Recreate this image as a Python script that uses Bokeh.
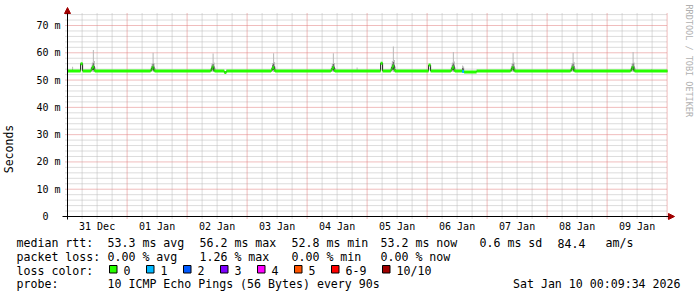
import numpy as np
from math import pi
from bokeh.plotting import figure
from bokeh.models import (FixedTicker, Label, BoxAnnotation, Arrow, NormalHead,
                          Range1d, ColumnDataSource)
from bokeh.embed import file_html
from bokeh.resources import INLINE

# ---------------- data (time = hours since 2025-12-31 00:00) ----------------
T_START = 9 / 60 + 34 / 3600          # Dec 31 00:09:34
T_END = T_START + 240                 # Jan 10 00:09:34
SAMPLE_H = 1440 / 3600                # one RRD step (hours)
Y_MAX = 74.4

day_ticks = [12, 36, 60, 84, 108, 132, 156, 180, 204, 228]
day_labels = ["31 Dec", "01 Jan", "02 Jan", "03 Jan", "04 Jan",
              "05 Jan", "06 Jan", "07 Jan", "08 Jan", "09 Jan"]
midnights = [24, 48, 72, 96, 120, 144, 168, 192, 216, 240]
ms_ticks = [0, 10, 20, 30, 40, 50, 60, 70]
ms_labels = ["0\u00a0\u00a0", "10 m", "20 m", "30 m", "40 m", "50 m", "60 m", "70 m"]

# median RTT (step series, ms) and lost pings per step
med_t = [0.16, 5.4, 6.2, 9.5, 9.9, 10.3, 10.7, 11.1,
         33.4, 33.8, 34.2, 34.6, 35.0,
         57.4, 57.8, 58.2, 58.6, 59.0,
         62.9, 63.7,
         81.6, 82.0, 82.4, 82.8, 83.2,
         105.5, 105.9, 106.3, 106.7, 107.1,
         125.4, 126.2,
         129.5, 129.9, 130.3, 130.7, 131.1,
         144.6, 145.4,
         153.5, 153.9, 154.3, 154.7, 155.1,
         158.0, 158.8, 163.8,
         177.4, 177.8, 178.2, 178.6, 179.0,
         201.4, 201.8, 202.2, 202.6, 203.0,
         225.4, 225.8, 226.2, 226.6, 227.0]
med_ms = [53.3, 56.0, 53.3, 53.7, 54.6, 54.9, 53.7, 53.3,
          53.6, 54.4, 54.7, 53.6, 53.3,
          53.6, 54.5, 54.8, 53.5, 53.3,
          52.8, 53.3,
          53.6, 54.4, 54.6, 53.6, 53.3,
          53.6, 54.3, 54.6, 53.5, 53.3,
          56.2, 53.3,
          53.8, 54.8, 55.2, 53.8, 53.3,
          55.5, 53.3,
          53.6, 54.5, 54.7, 53.6, 53.3,
          53.1, 53.0, 53.3,
          53.6, 54.4, 54.6, 53.6, 53.3,
          53.6, 54.4, 54.6, 53.5, 53.3,
          53.6, 54.5, 54.7, 53.6, 53.3]
med_loss = [0] * 44 + [1] + [0] * 17

# smoke (spread of the 10 pings per step, ms)
smoke_t = [2.0,
           9.5, 9.9, 10.3, 10.7, 11.1,
           33.4, 33.8, 34.2, 34.6, 35.0,
           57.4, 57.8, 58.2, 58.6, 59.0,
           81.6, 82.0, 82.4, 82.8, 83.2,
           105.5, 105.9, 106.3, 106.7, 107.1,
           115.8,
           129.5, 129.9, 130.3, 130.7, 131.1,
           153.5, 153.9, 154.3, 154.7, 155.1,
           158.0, 158.4,
           177.4, 177.8, 178.2, 178.6, 179.0,
           201.4, 201.8, 202.2, 202.6, 203.0,
           225.4, 225.8, 226.2, 226.6, 227.0,
           233.6]
smoke_lo = [53.2,
            53.1, 53.1, 53.0, 53.0, 53.1,
            53.1, 53.2, 53.1, 53.0, 53.1,
            53.1, 53.1, 53.0, 53.0, 53.1,
            53.1, 53.2, 53.0, 53.0, 53.1,
            53.1, 53.1, 53.0, 53.0, 53.1,
            53.2,
            53.1, 53.2, 53.0, 53.0, 53.1,
            53.1, 53.1, 53.0, 53.0, 53.1,
            53.0, 53.0,
            53.1, 53.1, 53.0, 53.0, 53.1,
            53.1, 53.2, 53.0, 53.0, 53.1,
            53.1, 53.1, 53.0, 53.0, 53.1,
            53.2]
smoke_hi = [54.9,
            54.8, 56.4, 61.0, 57.0, 54.6,
            54.6, 56.0, 60.0, 56.2, 54.4,
            54.4, 56.2, 59.7, 56.4, 54.5,
            54.7, 56.3, 59.8, 56.6, 54.6,
            54.5, 56.0, 59.8, 56.3, 54.4,
            54.6,
            55.0, 57.0, 62.3, 57.4, 55.0,
            54.8, 56.4, 60.3, 56.8, 54.6,
            55.3, 55.0,
            54.6, 56.1, 60.0, 56.5, 54.5,
            54.6, 56.2, 60.0, 56.6, 54.5,
            54.5, 56.0, 60.3, 56.4, 54.5,
            54.0]
smoke_in_lo = [53.3,
               53.3, 53.6, 53.8, 53.4, 53.2,
               53.3, 53.6, 53.8, 53.4, 53.2,
               53.3, 53.6, 53.8, 53.4, 53.2,
               53.3, 53.6, 53.8, 53.4, 53.2,
               53.3, 53.6, 53.8, 53.4, 53.2,
               53.3,
               53.4, 53.8, 54.0, 53.5, 53.2,
               53.3, 53.6, 53.8, 53.4, 53.2,
               53.2, 53.2,
               53.3, 53.6, 53.8, 53.4, 53.2,
               53.3, 53.6, 53.8, 53.4, 53.2,
               53.3, 53.6, 53.8, 53.4, 53.2,
               53.3]
smoke_in_hi = [53.8,
               54.2, 55.3, 56.2, 55.2, 53.8,
               54.0, 55.2, 56.0, 55.0, 53.8,
               54.0, 55.3, 55.9, 55.1, 53.8,
               54.1, 55.4, 56.0, 55.2, 53.9,
               54.0, 55.2, 55.9, 55.0, 53.8,
               53.7,
               54.3, 55.8, 56.6, 55.6, 54.0,
               54.1, 55.4, 56.1, 55.3, 53.8,
               54.4, 54.2,
               54.0, 55.2, 56.0, 55.1, 53.8,
               54.1, 55.3, 56.0, 55.2, 53.8,
               54.0, 55.2, 56.1, 55.1, 53.8,
               53.6]

loss_names = ["0", "1", "2", "3", "4", "5", "6-9", "10/10"]
loss_colors = ["#26ff00", "#00b8ff", "#0059ff", "#7e00ff",
               "#ff00ff", "#ff5500", "#ff0000", "#a10000"]

stats_rtt = ["53.3 ms avg", "56.2 ms max", "52.8 ms min", "53.2 ms now",
             "0.6 ms sd", "84.4", "am/s"]
stats_loss = ["0.00 % avg", "1.26 % max", "0.00 % min", "0.00 % now"]
probe_text = "10 ICMP Echo Pings (56 Bytes) every 90s"
stamp_text = "Sat Jan 10 00:09:34 2026"

# ---------------- layout: the frame covers the whole canvas ----------------
W, H = 697, 297
FL, FR, FT, FB = 67, 667, 13, 216     # where the graph area sits (canvas px)


def dx(px):
    return T_START + (px - FL) * (T_END - T_START) / (FR - FL)


def dy(py):
    return (FB - py) * Y_MAX / (FB - FT)


MONO = "DejaVu Sans Mono"

p = figure(width=W, height=H, output_backend="svg", toolbar_location=None,
           title=None, x_range=Range1d(dx(0), dx(W)), y_range=Range1d(dy(H), dy(0)),
           min_border=0, min_border_left=0, min_border_right=0,
           min_border_top=0, min_border_bottom=0)
p.outline_line_color = None
p.background_fill_color = "white"
p.border_fill_color = "white"
p.xgrid.visible = False
p.ygrid.visible = False

# grid lines (dotted, rrdtool style)
minor_h = [h for h in range(6, 240, 6) if h % 24]
minor_ms = [v for v in range(2, 75, 2) if v % 10]
grid_gray = "#b9b9b9"
grid_red = "#e07a7a"
p.segment(x0=minor_h, y0=dy(218), x1=minor_h, y1=Y_MAX,
          line_color=grid_gray, line_dash="1 1", line_width=1)
p.segment(x0=dx(65), y0=minor_ms, x1=T_END, y1=minor_ms,
          line_color=grid_gray, line_dash="1 1", line_width=1)
p.segment(x0=midnights, y0=dy(218), x1=midnights, y1=Y_MAX,
          line_color=grid_red, line_dash="1 1", line_width=1)
p.segment(x0=dx(65), y0=ms_ticks[1:], x1=T_END, y1=ms_ticks[1:],
          line_color=grid_red, line_dash="1 1", line_width=1)

# axes placed at the graph origin
p.xaxis.fixed_location = 0
p.yaxis.fixed_location = T_START
p.xaxis.ticker = FixedTicker(ticks=day_ticks)
p.xaxis.major_label_overrides = dict(zip(day_ticks, day_labels))
p.yaxis.ticker = FixedTicker(ticks=ms_ticks)
p.yaxis.major_label_overrides = dict(zip(ms_ticks, ms_labels))
for ax in (p.xaxis, p.yaxis):
    ax.axis_line_color = None
    ax.major_tick_line_color = None
    ax.minor_tick_line_color = None
    ax.major_tick_out = 0
    ax.major_tick_in = 0
    ax.major_label_text_font = MONO
    ax.major_label_text_font_size = "10px"
    ax.major_label_text_color = "black"
p.xaxis.major_label_standoff = 4
p.yaxis.major_label_standoff = 7
p.yaxis.axis_label = "Seconds"
p.yaxis.axis_label_text_font = MONO
p.yaxis.axis_label_text_font_size = "11.5px"
p.yaxis.axis_label_text_font_style = "normal"
p.yaxis.axis_label_text_color = "black"
p.yaxis.axis_label_standoff = 17

# smoke
smoke = ColumnDataSource(dict(
    left=smoke_t, right=[t + SAMPLE_H for t in smoke_t],
    lo=smoke_lo, hi=smoke_hi, ilo=smoke_in_lo, ihi=smoke_in_hi))
p.quad(left="left", right="right", bottom="lo", top="hi", source=smoke,
       fill_color="#b8b8b8", line_color=None)
p.quad(left="left", right="right", bottom="ilo", top="ihi", source=smoke,
       fill_color="#5e5e5e", line_color=None)

# median: thin dark line + loss-coloured band per step
xs = med_t + [T_END]
ys = med_ms + [med_ms[-1]]
p.step(xs, ys, mode="after", line_color="#202020", line_width=1)


def loss_idx(n):
    if n <= 5:
        return n
    return 6 if n < 10 else 7


seg = ColumnDataSource(dict(
    x0=med_t, x1=med_t[1:] + [T_END], y=med_ms,
    c=[loss_colors[loss_idx(n)] for n in med_loss]))
p.segment(x0="x0", y0="y", x1="x1", y1="y", source=seg,
          line_color="c", line_width=3, line_cap="butt")

# axis lines with arrow heads
arrow_col = "#a00000"
p.add_layout(Arrow(x_start=T_START, y_start=dy(219), x_end=T_START, y_end=dy(7),
                   line_color="black", line_width=1,
                   end=NormalHead(size=6, fill_color=arrow_col, line_color=arrow_col)))
p.add_layout(Arrow(x_start=dx(62), y_start=0, x_end=dx(674), y_end=0,
                   line_color="black", line_width=1,
                   end=NormalHead(size=6, fill_color=arrow_col, line_color=arrow_col)))

# watermark
p.add_layout(Label(x=dx(688), y=dy(4), text="RRDTOOL / TOBI OETIKER",
                   angle=-pi / 2, text_align="left", text_baseline="middle",
                   text_font=MONO, text_font_size="8.5px", text_color="#b0b0b0"))


def txt(px, py, s, align="left"):
    p.add_layout(Label(x=dx(px), y=dy(py), text=s, text_align=align,
                       text_baseline="alphabetic", text_font=MONO,
                       text_font_size="11.6px", text_color="black"))


row_y = [242.6, 256.3, 270.0, 283.7]
txt(16, row_y[0], "median rtt:")
for s, px in zip(stats_rtt, [107, 199, 291, 380, 479, 557, 605]):
    txt(px, row_y[0], s)
txt(16, row_y[1], "packet loss:")
for s, px in zip(stats_loss, [107, 199, 291, 380]):
    txt(px, row_y[1], s)
txt(16, row_y[2], "loss color:")
box_x = [109, 146, 183, 220, 257, 294, 331, 382]
for name, col, bx in zip(loss_names, loss_colors, box_x):
    p.add_layout(BoxAnnotation(left=dx(bx), right=dx(bx + 7.5), top=dy(265),
                               bottom=dy(272.5), fill_color=col, fill_alpha=1,
                               line_color="black", line_alpha=1, line_width=1))
    txt(bx + 14, row_y[2], name)
txt(16, row_y[3], "probe:")
txt(107, row_y[3], probe_text)
txt(680, row_y[3], stamp_text, align="right")

open("out.html", "w").write(file_html(p, INLINE))
